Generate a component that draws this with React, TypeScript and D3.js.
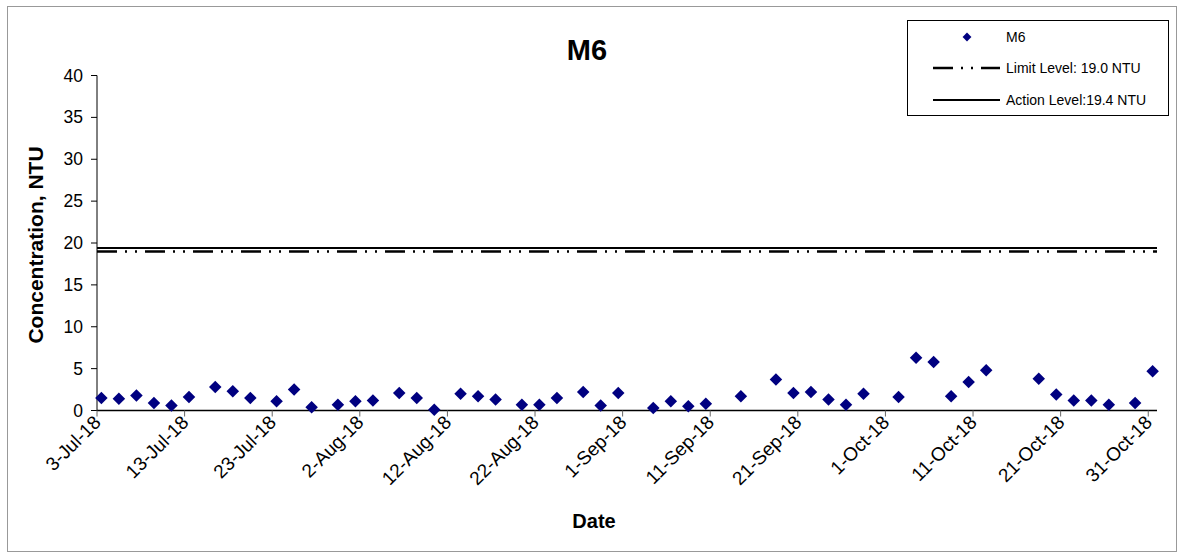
import React from "react";
import * as d3 from "d3";

const dates: string[] = [
  "2018-07-03", "2018-07-05", "2018-07-07", "2018-07-09", "2018-07-11", "2018-07-13",
  "2018-07-16", "2018-07-18", "2018-07-20", "2018-07-23", "2018-07-25", "2018-07-27",
  "2018-07-30", "2018-08-01", "2018-08-03", "2018-08-06", "2018-08-08", "2018-08-10",
  "2018-08-13", "2018-08-15", "2018-08-17", "2018-08-20", "2018-08-22", "2018-08-24",
  "2018-08-27", "2018-08-29", "2018-08-31", "2018-09-04", "2018-09-06", "2018-09-08",
  "2018-09-10", "2018-09-14", "2018-09-18", "2018-09-20", "2018-09-22", "2018-09-24",
  "2018-09-26", "2018-09-28", "2018-10-02", "2018-10-04", "2018-10-06", "2018-10-08",
  "2018-10-10", "2018-10-12", "2018-10-18", "2018-10-20", "2018-10-22", "2018-10-24",
  "2018-10-26", "2018-10-29", "2018-10-31",
];

const m6Values: number[] = [
  1.5, 1.4, 1.8, 0.9, 0.6, 1.6,
  2.8, 2.3, 1.5, 1.1, 2.5, 0.4,
  0.7, 1.1, 1.2, 2.1, 1.5, 0.1,
  2.0, 1.7, 1.3, 0.7, 0.7, 1.5,
  2.2, 0.6, 2.1, 0.3, 1.1, 0.5,
  0.8, 1.7, 3.7, 2.1, 2.2, 1.3,
  0.7, 2.0, 1.6, 6.3, 5.8, 1.7,
  3.4, 4.8, 3.8, 1.9, 1.2, 1.2,
  0.7, 0.9, 4.7,
];

const limitLevel = 19.0;
const actionLevel = 19.4;

const xTickDates: string[] = [
  "2018-07-03", "2018-07-13", "2018-07-23", "2018-08-02", "2018-08-12", "2018-08-22",
  "2018-09-01", "2018-09-11", "2018-09-21", "2018-10-01", "2018-10-11", "2018-10-21",
  "2018-10-31",
];
const yTicks: number[] = [0, 5, 10, 15, 20, 25, 30, 35, 40];
const xDomain: string[] = ["2018-07-03", "2018-11-01"];

const W = 1178;
const H = 552;
const FONT = "Liberation Sans, Arial, sans-serif";
const NAVY = "#000080";

export default function App() {
  const parse = (s: string) => new Date(s + "T00:00:00Z");
  const x = d3.scaleUtc().domain(xDomain.map(parse)).range([97, 1157]);
  const y = d3.scaleLinear().domain([0, 40]).range([410.5, 75.5]);
  const halfDay = 12 * 3600 * 1000;
  const fmt = d3.utcFormat("%-d-%b-%y");
  const diamond = d3.symbol().type(d3.symbolDiamond2).size(100)();

  const limitDash = "20 8 2 8 2 8";

  return (
    <svg width={W} height={H} style={{ position: "absolute", left: 0, top: 0 }}>
      <rect x={0} y={0} width={W} height={H} fill="#fff" />
      <rect x={7.5} y={6.5} width={W - 9} height={H - 7} fill="none" stroke="#999" strokeWidth={1} />
      {/* title */}
      <text x={587} y={60} textAnchor="middle" fontFamily={FONT} fontWeight="bold" fontSize={29}>M6</text>
      {/* y axis */}
      <line x1={97} x2={97} y1={y(40)} y2={y(0)} stroke="#000" strokeWidth={1} />
      {yTicks.map((t) => (
        <g key={t}>
          <line x1={91} x2={97} y1={y(t)} y2={y(t)} stroke="#000" />
          <text x={83} y={y(t) + 6} textAnchor="end" fontFamily={FONT} fontSize={17.5}>{t}</text>
        </g>
      ))}
      <text transform={`translate(43,${y(20) + 2}) rotate(-90)`} textAnchor="middle" fontFamily={FONT} fontWeight="bold" fontSize={21}>Concentration, NTU</text>
      {/* reference lines */}
      <line x1={97} x2={1157} y1={y(limitLevel)} y2={y(limitLevel)} stroke="#000" strokeWidth={2.5} strokeDasharray={limitDash} />
      <line x1={97} x2={1157} y1={y(actionLevel)} y2={y(actionLevel)} stroke="#000" strokeWidth={2} />
      {/* x axis */}
      <line x1={97} x2={1157} y1={y(0)} y2={y(0)} stroke="#000" strokeWidth={1.5} />
      {xTickDates.map((d) => {
        const px = x(parse(d));
        return (
          <g key={d}>
            <line x1={px} x2={px} y1={y(0)} y2={y(0) + 6} stroke="#666" />
            <text transform={`translate(${px + 5},${y(0) + 13}) rotate(-45)`} textAnchor="end" fontFamily={FONT} fontSize={19}>{fmt(parse(d))}</text>
          </g>
        );
      })}
      <text x={594} y={528} textAnchor="middle" fontFamily={FONT} fontWeight="bold" fontSize={20}>Date</text>
      {/* points */}
      {dates.map((d, i) => (
        <path key={d} d={diamond} transform={`translate(${x(new Date(parse(d).getTime() + halfDay))},${y(m6Values[i])})`} fill={NAVY} />
      ))}
      {/* legend */}
      <rect x={907.5} y={20.5} width={261} height={95} fill="#fff" stroke="#000" strokeWidth={1} />
      <path d={d3.symbol().type(d3.symbolDiamond2).size(50)()} transform="translate(967,37)" fill={NAVY} />
      <text x={1006} y={42} fontFamily={FONT} fontSize={14}>M6</text>
      <line x1={933} x2={1000} y1={68} y2={68} stroke="#000" strokeWidth={2.5} strokeDasharray="20 8 2 8 2 8 30" />
      <text x={1006} y={73} fontFamily={FONT} fontSize={14}>Limit Level: 19.0 NTU</text>
      <line x1={933} x2={1000} y1={100} y2={100} stroke="#000" strokeWidth={2} />
      <text x={1006} y={105} fontFamily={FONT} fontSize={14}>Action Level:19.4 NTU</text>
    </svg>
  );
}
